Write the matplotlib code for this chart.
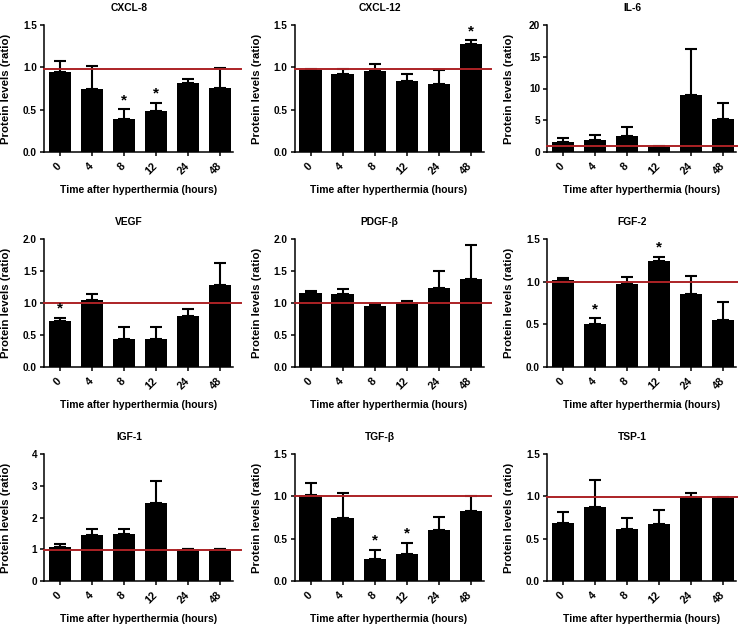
import matplotlib
matplotlib.use("Agg")
import matplotlib.pyplot as plt

plt.rcParams['font.family'] = ['Liberation Sans', 'DejaVu Sans']
plt.rcParams['font.weight'] = 'bold'

hours = ['0', '4', '8', '12', '24', '48']

names = ['CXCL-8', 'CXCL-12', 'IL-6', 'VEGF', 'PDGF-β', 'FGF-2', 'IGF-1', 'TGF-β', 'TSP-1']

cxcl8_mean = [0.94, 0.74, 0.39, 0.485, 0.81, 0.76]
cxcl8_err = [0.14, 0.28, 0.115, 0.095, 0.05, 0.235]
cxcl12_mean = [0.967, 0.916, 0.955, 0.84, 0.80, 1.28]
cxcl12_err = [0.013, 0.059, 0.085, 0.076, 0.163, 0.04]
il6_mean = [1.63, 1.95, 2.58, 0.79, 8.9, 5.2]
il6_err = [0.57, 0.65, 1.42, 0.21, 7.3, 2.5]
vegf_mean = [0.715, 1.044, 0.43, 0.43, 0.79, 1.28]
vegf_err = [0.055, 0.096, 0.19, 0.19, 0.11, 0.34]
pdgf_mean = [1.15, 1.14, 0.955, 1.01, 1.24, 1.38]
pdgf_err = [0.04, 0.08, 0.025, 0.02, 0.26, 0.52]
fgf2_mean = [1.014, 0.505, 0.975, 1.24, 0.854, 0.55]
fgf2_err = [0.026, 0.065, 0.075, 0.05, 0.216, 0.21]
igf1_mean = [1.08, 1.44, 1.47, 2.45, 1.02, 1.02]
igf1_err = [0.10, 0.20, 0.17, 0.70, 0.0, 0.0]
tgfb_mean = [1.016, 0.744, 0.256, 0.316, 0.604, 0.828]
tgfb_err = [0.144, 0.292, 0.116, 0.136, 0.152, 0.18]
tsp1_mean = [0.69, 0.87, 0.617, 0.67, 0.99, 0.976]
tsp1_err = [0.13, 0.325, 0.123, 0.17, 0.045, 0.014]

means = [cxcl8_mean, cxcl12_mean, il6_mean, vegf_mean, pdgf_mean, fgf2_mean,
         igf1_mean, tgfb_mean, tsp1_mean]
errs = [cxcl8_err, cxcl12_err, il6_err, vegf_err, pdgf_err, fgf2_err,
        igf1_err, tgfb_err, tsp1_err]

ref_levels = [0.975, 0.975, 0.9, 1.0, 1.0, 1.0, 0.97, 1.0, 0.995]
star_idx = [[2, 3], [5], [], [0], [], [1, 3], [], [2, 3], []]

yticks = [
    [0.0, 0.5, 1.0, 1.5],
    [0.0, 0.5, 1.0, 1.5],
    [0, 5, 10, 15, 20],
    [0.0, 0.5, 1.0, 1.5, 2.0],
    [0.0, 0.5, 1.0, 1.5, 2.0],
    [0.0, 0.5, 1.0, 1.5],
    [0, 1, 2, 3, 4],
    [0.0, 0.5, 1.0, 1.5],
    [0.0, 0.5, 1.0, 1.5],
]
ytick_fmt = ['{:.1f}', '{:.1f}', '{:d}', '{:.1f}', '{:.1f}', '{:.1f}', '{:d}', '{:.1f}', '{:.1f}']

W, H = 738, 626
fig = plt.figure(figsize=(W / 100, H / 100), dpi=100)

col_left = [44, 294.5, 547]
row_top = [25, 239, 454]
row_bot = [152, 367, 581]
ax_w = 189

red = '#ac2226'
fs_ytick = 7.2
fs_xtick = 7.8
fs_xlab = 7.5
fs_ylab = 8.2
fs_title = 7.4

for i in range(9):
    r, c = divmod(i, 3)
    left = col_left[c] / W
    bottom = 1 - row_bot[r] / H
    height = (row_bot[r] - row_top[r]) / H
    ax = fig.add_axes([left, bottom, ax_w / W, height])
    x = list(range(len(hours)))
    ax.bar(x, means[i], width=0.69, color='black', zorder=2)
    ax.errorbar(x, means[i], yerr=[[0] * len(x), errs[i]], fmt='none',
                ecolor='black', elinewidth=1.5, capsize=4, capthick=1.5, zorder=2)
    ax.axhline(ref_levels[i], xmin=0, xmax=1.04, color=red, lw=1.4,
               clip_on=False, zorder=3)
    for k in star_idx[i]:
        ax.annotate('*', (x[k], means[i][k] + errs[i][k]), xytext=(0, 1.5),
                    textcoords='offset points', ha='center', va='bottom',
                    fontsize=11, fontweight='bold')
    ax.set_xlim(-0.5, 5.4)
    ax.set_ylim(yticks[i][0], yticks[i][-1])
    ax.set_yticks(yticks[i])
    ax.set_yticklabels([ytick_fmt[i].format(v) for v in yticks[i]], fontsize=fs_ytick,
                       fontweight='bold')
    ax.set_xticks(x)
    ax.set_xticklabels(hours, rotation=45, ha='right', va='center',
                       rotation_mode='anchor', fontsize=fs_xtick, fontweight='bold')
    for s in ['top', 'right']:
        ax.spines[s].set_visible(False)
    for s in ['left', 'bottom']:
        ax.spines[s].set_linewidth(1.1)
    ax.tick_params(axis='both', direction='out', length=3, width=1.1, pad=2)
    ax.tick_params(axis='x', pad=6)
    ax.set_title(names[i], fontsize=fs_title, fontweight='bold', x=0.45, pad=10)
    ax.set_xlabel('Time after hyperthermia (hours)', fontsize=fs_xlab, fontweight='bold')
    ax.xaxis.set_label_coords(0.5, -0.26)
    ax.xaxis.label.set_va('top')
    ax.set_ylabel('Protein levels (ratio)', fontsize=fs_ylab, fontweight='bold')
    ax.yaxis.set_label_coords(-33 / ax_w, 0.5)

fig.savefig('out.png', dpi=100, facecolor='white')
